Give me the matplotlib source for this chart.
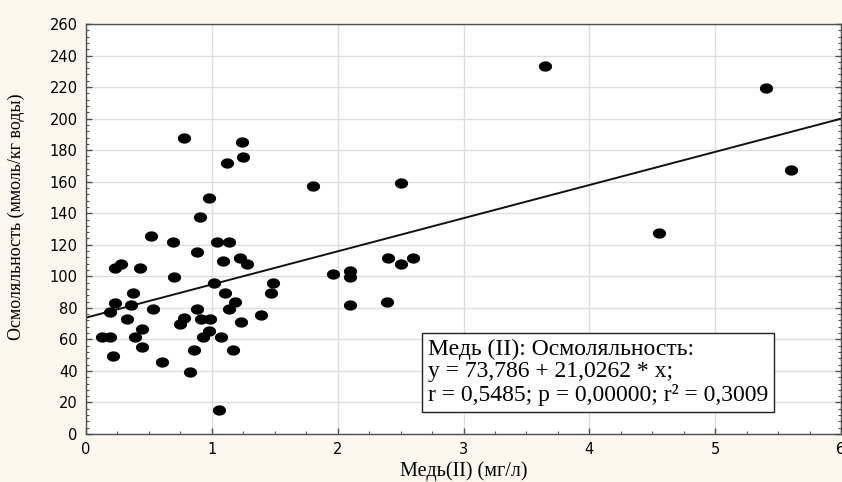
import numpy as np
import matplotlib
matplotlib.use("Agg")
import matplotlib.pyplot as plt
from matplotlib.path import Path
from matplotlib.ticker import MultipleLocator

# Data: copper (mg/L) vs osmolality (mmol/kg water)
copper = [0.78, 1.24, 1.12, 1.25, 0.976, 0.907, 0.52, 0.69, 1.04, 1.14,
          0.886, 1.09, 1.22, 1.28, 0.23, 0.275, 0.43, 0.70, 1.02, 1.49,
          0.37, 1.105, 1.47,
          0.23, 0.355, 1.185, 0.19, 0.53, 0.883, 1.14, 0.325, 0.775, 0.913,
          0.984, 0.75, 1.39, 1.23, 0.447, 0.98, 0.13, 0.19, 0.386, 0.93,
          1.07, 0.447, 0.857, 1.167, 0.217, 0.60, 0.825, 1.06,
          1.80, 2.50, 2.40, 2.60, 2.50, 1.96, 2.10, 2.10, 2.10, 2.39,
          3.65, 5.40, 5.60, 4.556]
osmolality = [187.5, 185.0, 171.6, 175.5, 149.4, 137.4, 125.3, 121.5, 121.5, 121.5,
              115.2, 109.5, 111.6, 107.6, 105.0, 107.6, 105.0, 99.4, 95.5, 95.5,
              89.2, 89.2, 89.2,
              83.3, 81.6, 83.5, 77.2, 79.1, 79.1, 79.1, 73.1, 73.8, 73.1,
              73.1, 69.6, 75.3, 71.2, 66.8, 65.1, 61.3, 61.3, 61.3, 61.3,
              61.3, 55.0, 53.3, 53.3, 49.3, 45.5, 39.3, 15.4,
              157.5, 159.4, 111.4, 111.4, 107.6, 101.3, 103.4, 99.4, 81.6, 83.5,
              233.4, 219.6, 167.2, 127.3]

intercept = 73.786
slope = 21.0262

x_label = "Медь(II) (мг/л)"
y_label = "Осмоляльность (ммоль/кг воды)"
stats_text = ("Медь (II): Осмоляльность:\n"
              "y = 73,786 + 21,0262 * x;\n"
              "r = 0,5485; p = 0,00000; r\u00b2 = 0,3009")

bg = "#fdf8ed"
fig = plt.figure(figsize=(8.42, 4.82), dpi=100, facecolor=bg)
ax = fig.add_axes([86/842, 1-434/482, (841-86)/842, (434-24)/482])
ax.set_facecolor("white")

# elliptical marker
t = np.linspace(0, 2*np.pi, 60)
verts = np.column_stack([np.cos(t), 0.78*np.sin(t)])
ell = Path(verts, closed=True)

ax.set_xlim(0, 6)
ax.set_ylim(0, 260)
ax.xaxis.set_major_locator(MultipleLocator(1))
ax.xaxis.set_minor_locator(MultipleLocator(0.25))
ax.yaxis.set_major_locator(MultipleLocator(20))
ax.yaxis.set_minor_locator(MultipleLocator(4))
ax.grid(True, which="major", color="#dedede", lw=1.0, zorder=0)
ax.set_axisbelow(True)

xs = np.array([0, 6])
ax.plot(xs, intercept + slope*xs, color="#111111", lw=1.4, zorder=2)
ax.plot(copper, osmolality, linestyle="none", marker=ell, markersize=9.5,
        color="black", markeredgewidth=0, zorder=3)

for s in ax.spines.values():
    s.set_color("#505050")
    s.set_linewidth(1.0)

ax.tick_params(which="both", direction="in", colors="#505050",
               labelcolor="black", right=True, top=False)
ax.tick_params(which="major", length=4, width=1, pad=6, labelsize=10.5)
ax.tick_params(which="minor", length=2.5, width=0.8)
for lab in ax.get_xticklabels() + ax.get_yticklabels():
    lab.set_fontfamily("DejaVu Sans")

ax.set_xlabel(x_label, family="Liberation Serif", fontsize=14.5, labelpad=3)
ax.set_ylabel(y_label, family="Liberation Serif", fontsize=13)
ax.yaxis.set_label_coords(-0.081, 0.53)

ax.text(0.453, 0.232, stats_text, transform=ax.transAxes,
        family="Liberation Serif", fontsize=17, linespacing=1.08,
        va="top", ha="left", zorder=5,
        bbox=dict(boxstyle="square,pad=0.25", fc="white", ec="#222222", lw=1.0))

fig.savefig("out.png", dpi=100, facecolor=bg)
